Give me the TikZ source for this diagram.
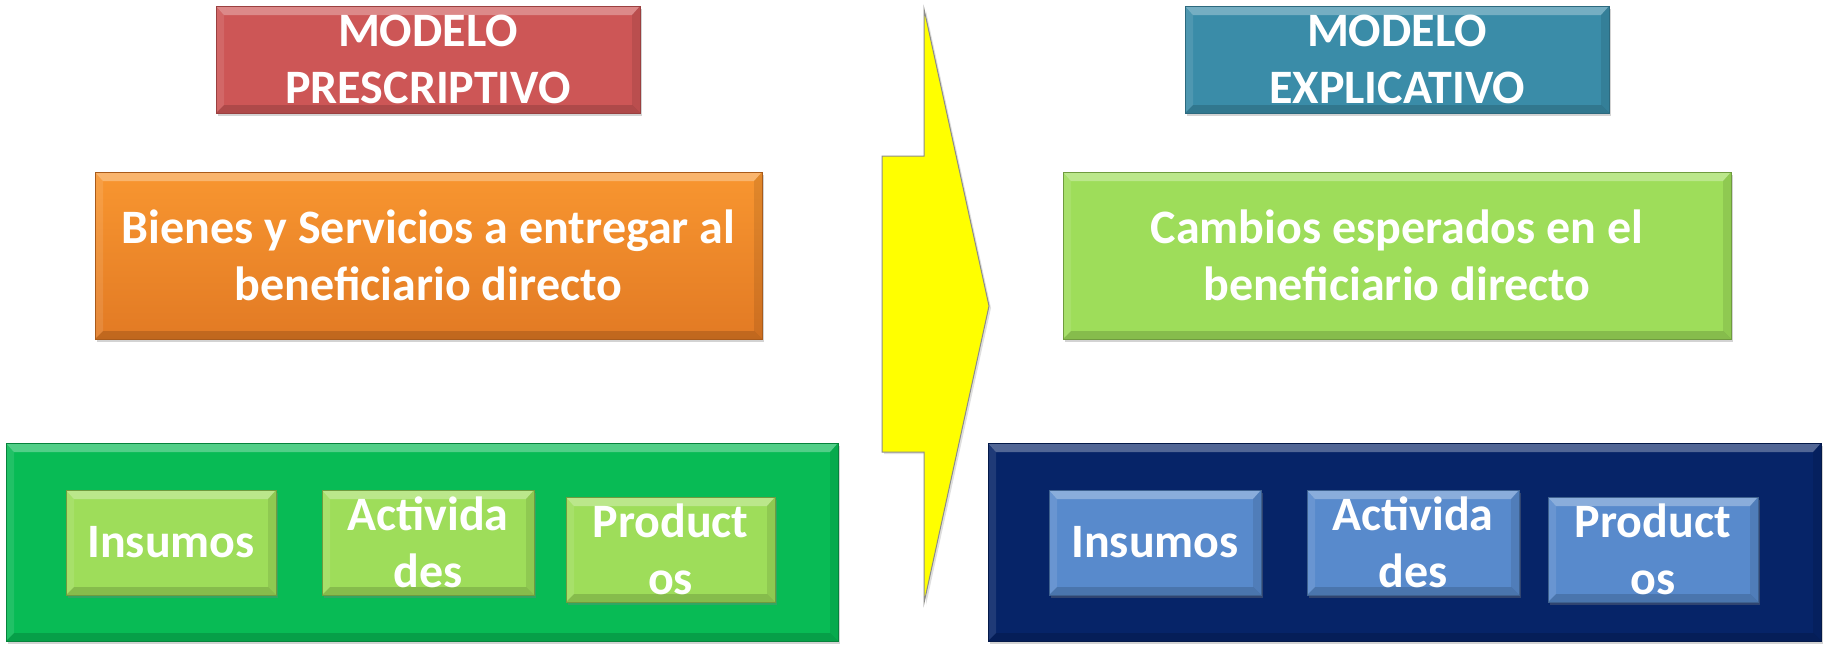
\documentclass[tikz,border=0pt]{standalone}
\usepackage{fontspec}
\setmainfont{Carlito}
\usetikzlibrary{shadows}
\definecolor{redM}{RGB}{205,86,86}
\definecolor{tealM}{RGB}{58,140,168}
\definecolor{orgM}{RGB}{248,150,48}
\definecolor{orgB}{RGB}{226,122,36}
\definecolor{lgM}{RGB}{158,221,90}
\definecolor{bgM}{RGB}{8,187,85}
\definecolor{nvM}{RGB}{6,36,104}
\definecolor{blM}{RGB}{88,138,204}
\definecolor{yel}{RGB}{255,255,0}
\tikzset{
  bevel/.style={path picture={
    \fill[white,opacity=0.3] (path picture bounding box.north west) -- (path picture bounding box.north east)
      -- ([xshift=-4pt,yshift=-4.5pt]path picture bounding box.north east) -- ([xshift=4pt,yshift=-4.5pt]path picture bounding box.north west) -- cycle;
    \fill[white,opacity=0.1] (path picture bounding box.north west) -- ([xshift=4pt,yshift=-4.5pt]path picture bounding box.north west)
      -- ([xshift=4pt,yshift=4pt]path picture bounding box.south west) -- (path picture bounding box.south west) -- cycle;
    \fill[black,opacity=0.15] (path picture bounding box.south west) -- (path picture bounding box.south east)
      -- ([xshift=-4pt,yshift=4pt]path picture bounding box.south east) -- ([xshift=4pt,yshift=4pt]path picture bounding box.south west) -- cycle;
    \fill[black,opacity=0.09] (path picture bounding box.north east) -- (path picture bounding box.south east)
      -- ([xshift=-4pt,yshift=4pt]path picture bounding box.south east) -- ([xshift=-4pt,yshift=-4.5pt]path picture bounding box.north east) -- cycle;
  }},
  box/.style={rectangle, inner sep=0pt, align=center, text=white, bevel,
    font=\fontsize{24}{28.5}\selectfont\bfseries, line width=0.4pt,
    drop shadow={opacity=0.35, shadow xshift=1.2pt, shadow yshift=-1.5pt}},
  redbox/.style={box, fill=redM, draw=redM!75!black},
  tealbox/.style={box, fill=tealM, draw=tealM!75!black},
  orgbox/.style={box, top color=orgM, bottom color=orgB, draw=orgB!75!black},
  lgbox/.style={box, fill=lgM, draw=lgM!70!black},
  bgbox/.style={box, fill=bgM, draw=bgM!70!black},
  nvbox/.style={box, fill=nvM, draw=nvM!70!black},
  blbox/.style={box, fill=blM, draw=blM!70!black},
}
\begin{document}
\begin{tikzpicture}[x=0.5pt,y=-0.5pt]
\useasboundingbox (0,0) rectangle (1825,649);
% yellow arrow
\path[fill=yel, draw=black!45, line width=0.5pt, drop shadow={opacity=0.25, shadow xshift=1pt, shadow yshift=-1pt}]
  (924,9) -- (924,156) -- (882,156) -- (882,452) -- (924,452) -- (924,603) -- (989,306) -- cycle;
% titles
\node[redbox, minimum width=212pt, minimum height=53.5pt] (pres) at (428,59.5) {MODELO\\PRESCRIPTIVO};
\node[tealbox, minimum width=212pt, minimum height=53.5pt] (expl) at (1397,59.5) {MODELO\\EXPLICATIVO};
% middle boxes
\node[orgbox, minimum width=333.5pt, minimum height=83.5pt] (bienes) at (428.5,255.5) {Bienes y Servicios a entregar al\\beneficiario directo};
\node[lgbox, minimum width=334pt, minimum height=83.5pt] (cambios) at (1397,255.5) {Cambios esperados en el\\beneficiario directo};
% bottom containers
\node[bgbox, minimum width=416pt, minimum height=99pt] (leftbig) at (422,542) {};
\node[nvbox, minimum width=416.5pt, minimum height=99pt] (rightbig) at (1404.5,542) {};
% inner left
\node[lgbox, minimum width=105pt, minimum height=52.5pt] (insL) at (171,542.5) {Insumos};
\node[lgbox, minimum width=106pt, minimum height=52.5pt] (actL) at (428,542.5) {Activida\\des};
\node[lgbox, minimum width=104.5pt, minimum height=52.5pt] (proL) at (670.5,549.5) {Product\\os};
% inner right
\node[blbox, minimum width=106pt, minimum height=52.5pt] (insR) at (1155,542.5) {Insumos};
\node[blbox, minimum width=106pt, minimum height=52.5pt] (actR) at (1413,542.5) {Activida\\des};
\node[blbox, minimum width=105pt, minimum height=52.5pt] (proR) at (1653,549.5) {Product\\os};
\end{tikzpicture}
\end{document}
